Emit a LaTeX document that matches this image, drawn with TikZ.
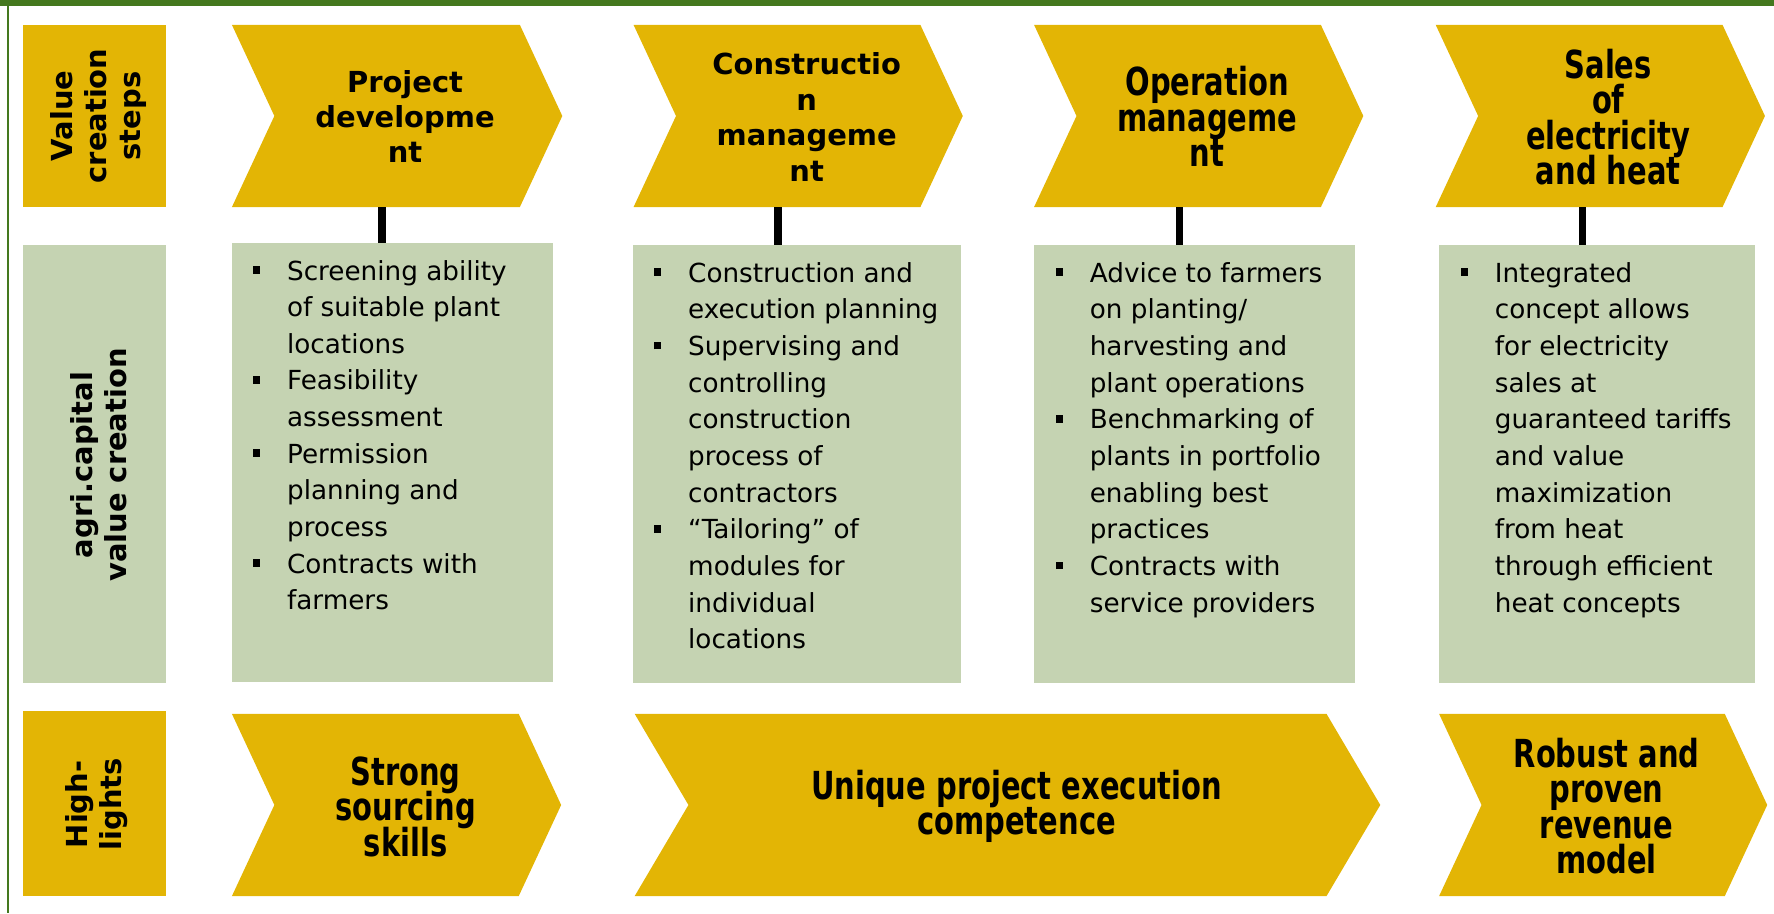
\documentclass[tikz,border=0pt]{standalone}
\usepackage{fontspec}
\setmainfont{DejaVu Sans}
\newfontfamily\tallfont{DejaVu Sans}[FakeStretch=0.75]
\usepackage{array}

\definecolor{gold}{RGB}{227,181,5}
\definecolor{sage}{RGB}{197,211,178}
\definecolor{framegreen}{RGB}{68,120,30}
\newcommand{\sqbul}{\rule[4.2pt]{5pt}{5pt}}
\newcommand{\tightlines}{\lineskiplimit=-50pt\relax}

\tikzset{every picture/.style={line width=0.75pt}}
\tikzset{
  head/.style={align=center, inner sep=0pt, font=\fontsize{19.2}{23.5}\selectfont\bfseries},
  tallhead/.style={align=center, inner sep=0pt, font=\tallfont\fontsize{25.6}{23.5}\selectfont\bfseries\tightlines},
  rowlabel/.style={align=center, inner sep=0pt, rotate=90, font=\fontsize{19.2}{22.5}\selectfont\bfseries},
  items/.style={anchor=base west, inner sep=0pt, font=\fontsize{17.4}{24.3}\selectfont},
  link/.style={line width=5.25pt},
}

\begin{document}
\begin{tikzpicture}[x=0.75pt,y=0.75pt,yscale=-1,xscale=1]
	\useasboundingbox (0,0) rectangle (1568,807);

	%Frame
	\fill[framegreen] (0,0) rectangle (1568,5.3);
	\fill[framegreen] (6,0) rectangle (7.6,807);

	%Shape: Rectangle (row labels)
	\fill[gold] (20,22) rectangle (147,183);
	\fill[sage] (20,216.5) rectangle (147,604);
	\fill[gold] (20,628.5) rectangle (147,792);

	%Shape: Chevrons (value creation steps)
	\fill[gold] (205,22) -- (459.5,22) -- (497,102.5) -- (459.5,183) -- (205,183) -- (242.5,102.5) -- cycle;
	\fill[gold] (560,22) -- (813.5,22) -- (851,102.5) -- (813.5,183) -- (560,183) -- (597.5,102.5) -- cycle;
	\fill[gold] (914,22) -- (1167.5,22) -- (1205,102.5) -- (1167.5,183) -- (914,183) -- (951.5,102.5) -- cycle;
	\fill[gold] (1269,22) -- (1522.5,22) -- (1560,102.5) -- (1522.5,183) -- (1269,183) -- (1306.5,102.5) -- cycle;

	%Shape: Rectangle (value creation)
	\fill[sage] (205,215) rectangle (489,603);
	\fill[sage] (559.5,216.5) rectangle (849.5,604);
	\fill[sage] (914,216.5) rectangle (1197.5,604);
	\fill[sage] (1272,216.5) rectangle (1551,604);

	%Shape: Chevrons (highlights)
	\fill[gold] (205,631) -- (458.5,631) -- (496,711.5) -- (458.5,792) -- (205,792) -- (242.5,711.5) -- cycle;
	\fill[gold] (561,631) -- (1172.5,631) -- (1220,711.5) -- (1172.5,792) -- (561,792) -- (608.5,711.5) -- cycle;
	\fill[gold] (1272,631) -- (1524.5,631) -- (1562,711.5) -- (1524.5,792) -- (1272,792) -- (1309.5,711.5) -- cycle;

	%Straight Lines
	\coordinate (pd-foot) at (337.5,183);
	\coordinate (pd-box) at (337.5,215);
	\coordinate (cm-foot) at (688,183);
	\coordinate (cm-box) at (688,216.5);
	\coordinate (om-foot) at (1042.5,183);
	\coordinate (om-box) at (1042.5,216.5);
	\coordinate (se-foot) at (1398.7,183);
	\coordinate (se-box) at (1398.7,216.5);
	\draw[link] (pd-foot) -- (pd-box);
	\draw[link] (cm-foot) -- (cm-box);
	\draw[link] (om-foot) -- (om-box);
	\draw[link] (se-foot) -- (se-box);

	% Text Node
	\node[rowlabel] (lbl-steps) at (87,102.5) {Value\\creation\\steps};
	% Text Node
	\node[rowlabel] (lbl-value) at (87.5,411) {agri.capital\\value creation};
	% Text Node
	\node[rowlabel] (lbl-high) at (85,711) {High-\\lights};

	% Text Node
	\node[head] (pd) at (358,103) {Project\\developme\\nt};
	% Text Node
	\node[head] (cm) at (713,103.5) {Constructio\\n\\manageme\\nt};
	% Text Node
	\node[tallhead] (om) at (1067,103) {Operation\\manageme\\nt};
	% Text Node
	\node[tallhead] (se) at (1421.5,103.5) {Sales\\of\\electricity\\and heat};

	% Text Node
	\node[items] (pd-items) at (223,247.5) {\begin{tabular}[t]{@{}p{22.7pt}@{}l@{}}
	\sqbul & Screening ability\\
	 & of suitable plant\\
	 & locations\\
	\sqbul & Feasibility\\
	 & assessment\\
	\sqbul & Permission\\
	 & planning and\\
	 & process\\
	\sqbul & Contracts with\\
	 & farmers
	\end{tabular}};
	% Text Node
	\node[items] (cm-items) at (577.5,249.5) {\begin{tabular}[t]{@{}p{22.7pt}@{}l@{}}
	\sqbul & Construction and\\
	 & execution planning\\
	\sqbul & Supervising and\\
	 & controlling\\
	 & construction\\
	 & process of\\
	 & contractors\\
	\sqbul & “Tailoring” of\\
	 & modules for\\
	 & individual\\
	 & locations
	\end{tabular}};
	% Text Node
	\node[items] (om-items) at (932.5,249.5) {\begin{tabular}[t]{@{}p{22.7pt}@{}l@{}}
	\sqbul & Advice to farmers\\
	 & on planting/\\
	 & harvesting and\\
	 & plant operations\\
	\sqbul & Benchmarking of\\
	 & plants in portfolio\\
	 & enabling best\\
	 & practices\\
	\sqbul & Contracts with\\
	 & service providers
	\end{tabular}};
	% Text Node
	\node[items] (se-items) at (1290.5,249.5) {\begin{tabular}[t]{@{}p{22.7pt}@{}l@{}}
	\sqbul & Integrated\\
	 & concept allows\\
	 & for electricity\\
	 & sales at\\
	 & guaranteed tariffs\\
	 & and value\\
	 & maximization\\
	 & from heat\\
	 & through efficient\\
	 & heat concepts
	\end{tabular}};

	% Text Node
	\node[tallhead] (hl-sourcing) at (358.5,713) {Strong\\sourcing\\skills};
	% Text Node
	\node[tallhead] (hl-execution) at (898.5,712.5) {Unique project execution\\competence};
	% Text Node
	\node[tallhead] (hl-revenue) at (1420,712.5) {Robust and\\proven\\revenue\\model};

\end{tikzpicture}
\end{document}
